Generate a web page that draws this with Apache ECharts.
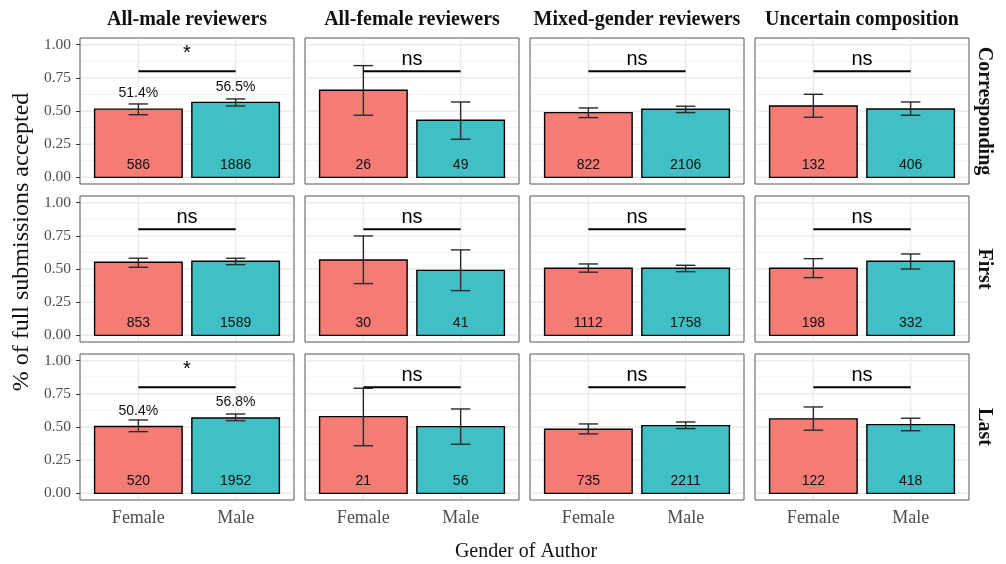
<!DOCTYPE html>
<html><head><meta charset="utf-8">
<script src="https://cdn.jsdelivr.net/npm/echarts@6/dist/echarts.min.js"></script>
<style>html,body{margin:0;padding:0;background:#fff}#c{width:1006px;height:564px}</style>
</head><body><div id="c"></div>
<script>
// ---------- data ----------
const reviewerGroups = ['All-male reviewers', 'All-female reviewers', 'Mixed-gender reviewers', 'Uncertain composition'];
const authorRoles = ['Corresponding', 'First', 'Last'];
const genders = ['Female', 'Male'];
const yTicks = [0, 0.25, 0.5, 0.75, 1.0];
const yMinorTicks = [0.125, 0.375, 0.625, 0.875];

// each entry: [Female, Male] for one reviewer group
const correspondingRate = [[0.514, 0.565], [0.656, 0.430], [0.488, 0.513], [0.538, 0.515]];
const correspondingLow  = [[0.472, 0.538], [0.468, 0.287], [0.450, 0.488], [0.453, 0.468]];
const correspondingHigh = [[0.553, 0.591], [0.842, 0.568], [0.523, 0.536], [0.626, 0.568]];
const correspondingN    = [[586, 1886], [26, 49], [822, 2106], [132, 406]];
const correspondingSig  = ['*', 'ns', 'ns', 'ns'];

const firstRate = [[0.551, 0.558], [0.568, 0.490], [0.506, 0.506], [0.506, 0.558]];
const firstLow  = [[0.513, 0.533], [0.390, 0.337], [0.476, 0.480], [0.435, 0.500]];
const firstHigh = [[0.581, 0.581], [0.749, 0.644], [0.538, 0.528], [0.578, 0.613]];
const firstN    = [[853, 1589], [30, 41], [1112, 1758], [198, 332]];
const firstSig  = ['ns', 'ns', 'ns', 'ns'];

const lastRate = [[0.504, 0.568], [0.578, 0.503], [0.483, 0.510], [0.561, 0.518]];
const lastLow  = [[0.465, 0.548], [0.359, 0.370], [0.448, 0.488], [0.476, 0.472]];
const lastHigh = [[0.553, 0.598], [0.792, 0.636], [0.523, 0.538], [0.651, 0.566]];
const lastN    = [[520, 1952], [21, 56], [735, 2211], [122, 418]];
const lastSig  = ['*', 'ns', 'ns', 'ns'];

// ---------- layout ----------
const rowsData = [
  {rate: correspondingRate, low: correspondingLow, high: correspondingHigh, n: correspondingN, sig: correspondingSig},
  {rate: firstRate, low: firstLow, high: firstHigh, n: firstN, sig: firstSig},
  {rate: lastRate, low: lastLow, high: lastHigh, n: lastN, sig: lastSig}
];
const colLeft = [80, 305, 530, 755];
const rowTop = [38, 196, 354];
const panelW = 214, panelH = 146;
const fillColors = ['#F57B75', '#40C0C4'];
const SERIF = "'Liberation Serif', 'Times New Roman', serif";
const SANS = "'Liberation Sans', Arial, sans-serif";

const grids = [], xAxes = [], yAxes = [], series = [], graphics = [];

for (let r = 0; r < 3; r++) {
  for (let c = 0; c < 4; c++) {
    const idx = r * 4 + c;
    const rd = rowsData[r];
    grids.push({left: colLeft[c], top: rowTop[r], width: panelW, height: panelH,
      show: true, borderColor: '#555', borderWidth: 1, backgroundColor: 'transparent'});
    xAxes.push({gridIndex: idx, type: 'value', min: 0.4, max: 2.6,
      splitLine: {show: false}, axisLine: {show: false},
      axisTick: {show: r === 2, customValues: [1, 2], length: 4, lineStyle: {color: '#333', width: 1}},
      axisLabel: {show: r === 2, customValues: [1, 2], margin: 9,
        formatter: v => genders[Math.round(v) - 1] || '',
        fontFamily: SERIF, fontSize: 18, color: '#4D4D4D'}});
    yAxes.push({gridIndex: idx, type: 'value', min: -0.05, max: 1.05,
      splitLine: {show: false}, axisLine: {show: false},
      axisTick: {show: c === 0, customValues: yTicks, length: 4, lineStyle: {color: '#333', width: 1}},
      axisLabel: {show: c === 0, customValues: yTicks, margin: 9,
        formatter: v => Number(v).toFixed(2),
        fontFamily: SERIF, fontSize: 15.5, color: '#4D4D4D'}});

    // grid lines
    series.push({type: 'custom', xAxisIndex: idx, yAxisIndex: idx, z: 1, silent: true,
      data: [[0]],
      renderItem: function (params, api) {
        const ch = [];
        yMinorTicks.forEach(t => {
          const a = api.coord([0.4, t]), b = api.coord([2.6, t]);
          ch.push({type: 'line', shape: {x1: a[0] + 1, y1: a[1], x2: b[0] - 1, y2: b[1]},
            style: {stroke: '#F2F2F2', lineWidth: 1}});
        });
        yTicks.forEach(t => {
          const a = api.coord([0.4, t]), b = api.coord([2.6, t]);
          ch.push({type: 'line', shape: {x1: a[0] + 1, y1: a[1], x2: b[0] - 1, y2: b[1]},
            style: {stroke: '#EBEBEB', lineWidth: 1.5}});
        });
        [1, 2].forEach(t => {
          const a = api.coord([t, -0.05]), b = api.coord([t, 1.05]);
          ch.push({type: 'line', shape: {x1: a[0], y1: a[1] - 1, x2: b[0], y2: b[1] + 1},
            style: {stroke: '#EBEBEB', lineWidth: 1.5}});
        });
        return {type: 'group', children: ch};
      }});

    // bars + error bars + labels
    const barData = [0, 1].map(g => [g + 1, rd.rate[c][g], rd.low[c][g], rd.high[c][g], rd.n[c][g], g]);
    const showPct = rd.sig[c] === '*';
    series.push({type: 'custom', xAxisIndex: idx, yAxisIndex: idx, z: 2, silent: true,
      data: barData,
      renderItem: function (params, api) {
        const x = api.value(0), v = api.value(1), lo = api.value(2), hi = api.value(3);
        const n = api.value(4), g = api.value(5);
        const p0 = api.coord([x - 0.45, v]), p1 = api.coord([x + 0.45, 0]);
        const cHi = api.coord([x, hi]), cLo = api.coord([x, lo]);
        const capL = api.coord([x - 0.1, hi])[0], capR = api.coord([x + 0.1, hi])[0];
        const nPos = api.coord([x, 0.09]);
        const ch = [
          {type: 'rect', shape: {x: p0[0], y: p0[1], width: p1[0] - p0[0], height: p1[1] - p0[1]},
            style: {fill: fillColors[g], stroke: '#000', lineWidth: 1.4}},
          {type: 'line', shape: {x1: cHi[0], y1: cHi[1], x2: cLo[0], y2: cLo[1]},
            style: {stroke: '#2A2A2A', lineWidth: 1.4}},
          {type: 'line', shape: {x1: capL, y1: cHi[1], x2: capR, y2: cHi[1]},
            style: {stroke: '#2A2A2A', lineWidth: 1.4}},
          {type: 'line', shape: {x1: capL, y1: cLo[1], x2: capR, y2: cLo[1]},
            style: {stroke: '#2A2A2A', lineWidth: 1.4}},
          {type: 'text', x: nPos[0], y: nPos[1],
            style: {text: String(n), fill: '#111', font: '14px ' + SANS, align: 'center', verticalAlign: 'middle'}}
        ];
        if (showPct) {
          const pp = api.coord([x, v + 0.118]);
          ch.push({type: 'text', x: pp[0], y: pp[1],
            style: {text: (v * 100).toFixed(1) + '%', fill: '#111', font: '14px ' + SANS, align: 'center', verticalAlign: 'middle'}});
        }
        return {type: 'group', children: ch};
      }});

    // significance bracket
    const sigLabel = rd.sig[c];
    series.push({type: 'custom', xAxisIndex: idx, yAxisIndex: idx, z: 3, silent: true,
      data: [[1, 2, 0.8]],
      renderItem: function (params, api) {
        const a = api.coord([api.value(0), api.value(2)]), b = api.coord([api.value(1), api.value(2)]);
        const t = api.coord([(api.value(0) + api.value(1)) / 2, sigLabel === '*' ? 0.935 : 0.89]);
        return {type: 'group', children: [
          {type: 'line', shape: {x1: a[0], y1: a[1], x2: b[0], y2: b[1]}, style: {stroke: '#000', lineWidth: 2}},
          {type: 'text', x: t[0], y: t[1],
            style: {text: sigLabel, fill: '#000', font: '20px ' + SANS, align: 'center', verticalAlign: 'middle'}}
        ]};
      }});
  }
}

// strip labels (top)
reviewerGroups.forEach((g, c) => {
  graphics.push({type: 'text', x: colLeft[c] + panelW / 2, y: 20,
    style: {text: g, font: 'bold 20px ' + SERIF, fill: '#111', align: 'center', verticalAlign: 'middle'}});
});
// strip labels (right)
authorRoles.forEach((role, r) => {
  graphics.push({type: 'text', x: 984, y: rowTop[r] + panelH / 2, rotation: -Math.PI / 2,
    style: {text: role, font: 'bold 20px ' + SERIF, fill: '#111', align: 'center', verticalAlign: 'middle'}});
});
// axis titles
graphics.push({type: 'text', x: 526, y: 552,
  style: {text: 'Gender of Author', font: '20px ' + SERIF, fill: '#111', align: 'center', verticalAlign: 'middle'}});
graphics.push({type: 'text', x: 22, y: 242, rotation: Math.PI / 2,
  style: {text: '% of full submissions accepted', font: '24px ' + SERIF, fill: '#111', align: 'center', verticalAlign: 'middle'}});

const chart = echarts.init(document.getElementById('c'), null, {renderer: 'canvas'});
chart.setOption({
  animation: false,
  backgroundColor: '#fff',
  grid: grids, xAxis: xAxes, yAxis: yAxes, series: series, graphic: graphics
});
</script>
</body></html>
